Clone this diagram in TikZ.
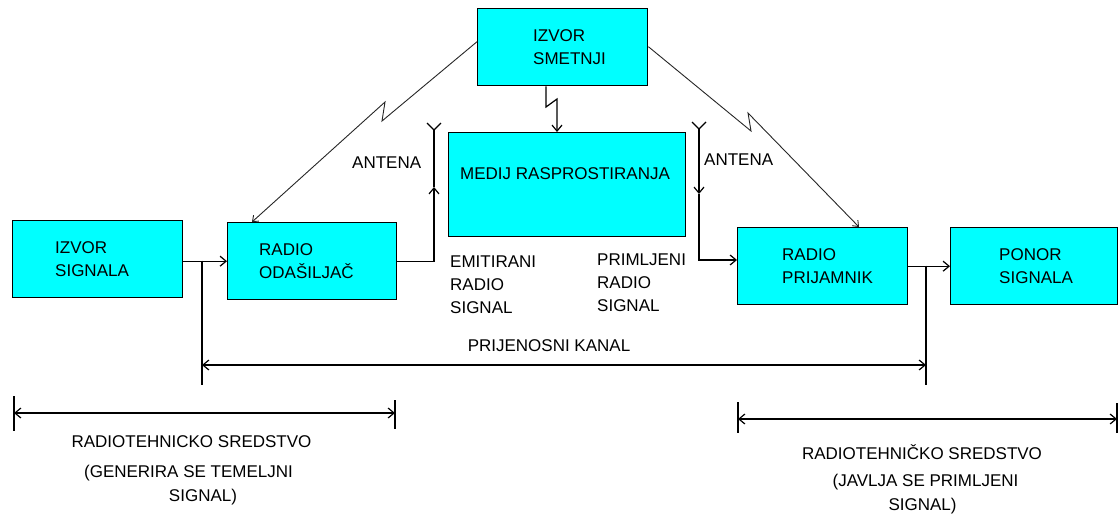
\documentclass[tikz,border=0pt]{standalone}
\usepackage{fontspec}
\setmainfont{Liberation Sans}
\usetikzlibrary{arrows.meta}
\definecolor{blockfill}{RGB}{0,255,255}

\begin{document}
\begin{tikzpicture}[x=1pt,y=-1pt,
  txt/.style={font=\fontsize{17}{23}\selectfont, inner sep=0pt, align=left},
  block/.style={draw=black, line width=1.4pt, fill=blockfill, inner sep=0pt, anchor=north west},
  conn/.style={line width=1.2pt, draw=black},
  zap/.style={line width=0.9pt, draw=black!85},
  tip/.style={-{Straight Barb[length=6pt,width=10pt]}},
  ztip/.style={-{Straight Barb[length=5pt,width=8pt]}},
  dimtip/.style={{Straight Barb[length=6pt,width=10pt]}-{Straight Barb[length=6pt,width=10pt]}}
]
\useasboundingbox (0,0) rectangle (1119,515);

% blocks
\node[block, minimum width=170pt, minimum height=77pt]  (sig) at (12,220) {};
\node[block, minimum width=169pt, minimum height=77pt]  (oda) at (227,222) {};
\node[block, minimum width=170pt, minimum height=77pt]  (smt) at (477,8) {};
\node[block, minimum width=237pt, minimum height=104pt] (med) at (448,132) {};
\node[block, minimum width=170pt, minimum height=77pt]  (pri) at (737,227) {};
\node[block, minimum width=167pt, minimum height=77pt]  (pon) at (950,227) {};

% block texts
\node[txt, anchor=west] (sig-t) at ([xshift=43pt]sig.west) {IZVOR\\SIGNALA};
\node[txt, anchor=west] (oda-t) at ([xshift=32pt]oda.west) {RADIO\\ODAŠILJAČ};
\node[txt, anchor=west] (smt-t) at ([xshift=56pt]smt.west) {IZVOR\\SMETNJI};
\node[txt, anchor=west] (pri-t) at ([xshift=45pt]pri.west) {RADIO\\PRIJAMNIK};
\node[txt, anchor=west] (pon-t) at ([xshift=49pt]pon.west) {PONOR\\SIGNALA};
\node[txt, anchor=base west] (med-t) at (460,179) {MEDIJ RASPROSTIRANJA};

% free labels
\node[txt, anchor=base west] (ant1-l) at (352,168) {ANTENA};
\node[txt, anchor=base west] (ant2-l) at (704,165) {ANTENA};
\node[txt, anchor=west] (emit) at (450,284.5) {EMITIRANI\\RADIO\\SIGNAL};
\node[txt, anchor=west] (prim) at (597,283) {PRIMLJENI\\RADIO\\SIGNAL};
\node[txt, anchor=base] (kanal) at (549,351) {PRIJENOSNI KANAL};

\node[txt, anchor=base] (l1) at (191.5,447) {RADIOTEHNICKO SREDSTVO};
\node[txt, anchor=base] (l2) at (188.5,477) {(GENERIRA SE TEMELJNI};
\node[txt, anchor=base] (l3) at (203,501) {SIGNAL)};
\node[txt, anchor=base] (r1) at (922,459) {RADIOTEHNIČKO SREDSTVO};
\node[txt, anchor=base] (r2) at (925.5,486) {(JAVLJA SE PRIMLJENI};
\node[txt, anchor=base] (r3) at (922.5,510) {SIGNAL)};

% signal path
\draw[conn,tip] (sig.east |- oda.west) -- (oda.west);
\draw[conn,tip] (pri.east) -- (pon.west);

% transmitting antenna
\coordinate (a1-top) at (434,130);
\coordinate (a1-mid) at (434,187);
\coordinate (a1-l) at (427,123);
\coordinate (a1-r) at (441,123);
\draw[conn,tip] (oda.east) -| (a1-mid);
\draw[conn] (a1-mid) -- (a1-top);
\draw[conn] (a1-l) -- (a1-top) -- (a1-r);

% receiving antenna
\coordinate (a2-top) at (699,129);
\coordinate (a2-mid) at (699,194);
\coordinate (a2-foot) at (699,260);
\coordinate (a2-l) at (692,122);
\coordinate (a2-r) at (706,122);
\draw[conn,tip] (a2-top) -- (a2-mid);
\draw[conn,tip] (a2-mid) -- (a2-foot) -- (a2-foot -| pri.west);
\draw[conn] (a2-l) -- (a2-top) -- (a2-r);

% interference paths
\coordinate (z0-a) at (546,107);
\coordinate (z0-b) at (557,99);
\draw[conn,tip] (smt.south -| z0-a) -- (z0-a) -- (z0-b) -- (z0-b |- med.north);

\coordinate (z1-a) at (382,121);
\coordinate (z1-b) at (385,102);
\draw[zap,ztip] ([yshift=5.5pt]smt.west) -- (z1-a) -- (z1-b) -- ([xshift=25pt]oda.north west);

\coordinate (z2-a) at (751,131);
\coordinate (z2-b) at (748,113);
\draw[zap,ztip] ([yshift=0.5pt]smt.east) -- (z2-a) -- (z2-b) -- ([xshift=122pt]pri.north west);

% transmission channel span
\coordinate (kL-top) at (202,260.5);
\coordinate (kL-bot) at (202,385);
\coordinate (kR-top) at (926,265.5);
\coordinate (kR-bot) at (926,385);
\coordinate (kL-m) at (202,365);
\coordinate (kR-m) at (926,365);
\draw[conn] (kL-top) -- (kL-bot);
\draw[conn] (kR-top) -- (kR-bot);
\draw[conn,dimtip] (kL-m) -- (kR-m);

% transmitter-side span
\coordinate (bl-1t) at (14,396);
\coordinate (bl-1b) at (14,431);
\coordinate (bl-2t) at (395,400);
\coordinate (bl-2b) at (395,429);
\coordinate (bl-1m) at (14,413);
\coordinate (bl-2m) at (395,413);
\draw[conn] (bl-1t) -- (bl-1b);
\draw[conn] (bl-2t) -- (bl-2b);
\draw[conn,dimtip] (bl-1m) -- (bl-2m);

% receiver-side span
\coordinate (br-1t) at (738,402);
\coordinate (br-1b) at (738,433);
\coordinate (br-2t) at (1117,403);
\coordinate (br-2b) at (1117,433);
\coordinate (br-1m) at (738,419);
\coordinate (br-2m) at (1117,419);
\draw[conn] (br-1t) -- (br-1b);
\draw[conn] (br-2t) -- (br-2b);
\draw[conn,dimtip] (br-1m) -- (br-2m);
\end{tikzpicture}
\end{document}
